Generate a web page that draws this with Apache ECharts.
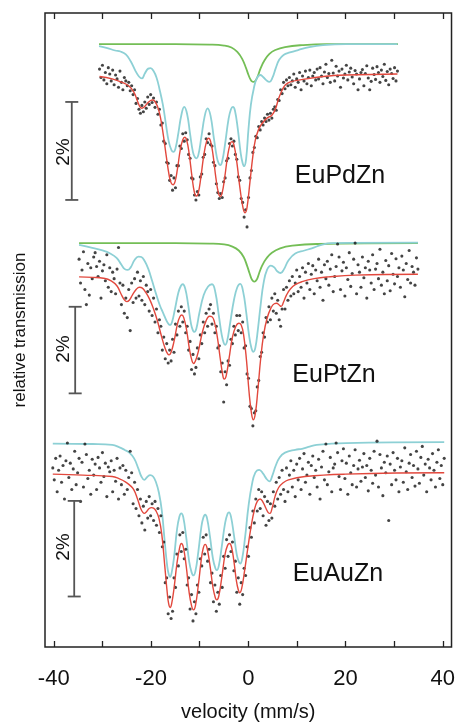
<!DOCTYPE html>
<html>
<head>
<meta charset="utf-8">
<script src="https://cdn.jsdelivr.net/npm/echarts@6/dist/echarts.min.js"></script>
<style>
  html, body { margin: 0; padding: 0; background: #fff; }
  #chart { width: 458px; height: 727px; }
</style>
</head>
<body>
<div id="chart"></div>
<script>
// Mössbauer spectra, relative transmission in % (0 = baseline of the fit)
const velStep = 0.3;
const pdVel0 = -30.6;
const ptVel0 = -34.8;
const auVel0 = -40.2;

// measured points, one per channel
const pdData = [
  0.12, -0.05, 0.20, -0.10, 0.05, -0.18, 0.15, 0.02, -0.12, 0.10,
  -0.20, 0.00, -0.08, -0.25, 0.08, -0.15, -0.30, -0.05, -0.12, -0.22,
  -0.15, -0.32, -0.22, -0.40, -0.30, -0.58, -0.48, -0.70, -0.78, -0.62,
  -0.75, -0.55, -0.68, -0.45, -0.60, -0.40, -0.56, -0.47, -0.66, -0.55,
  -0.80, -0.70, -1.02, -0.98, -1.35, -1.40, -1.78, -1.80, -2.15, -2.05,
  -2.35, -2.10, -2.30, -1.85, -1.85, -1.45, -1.50, -1.20, -1.35, -1.18,
  -1.32, -1.62, -1.70, -2.10, -2.12, -2.45, -2.55, -2.38, -2.45, -2.08,
  -2.02, -1.68, -1.62, -1.30, -1.38, -1.20, -1.42, -1.45, -1.78, -1.85,
  -2.22, -2.40, -2.52, -2.42, -2.50, -2.18, -2.10, -1.75, -1.70, -1.40,
  -1.30, -1.45, -1.35, -1.62, -1.72, -2.08, -2.15, -2.52, -2.60, -2.90,
  -2.75, -3.10, -2.50, -2.10, -1.95, -1.58, -1.48, -1.25, -1.28, -1.05,
  -1.12, -0.95, -1.02, -0.88, -0.95, -0.80, -0.92, -0.78, -0.88, -0.70,
  -0.65, -0.72, -0.50, -0.52, -0.30, -0.38, -0.15, -0.28, -0.10, -0.22,
  -0.05, -0.20, -0.12, 0.02, -0.25, -0.08, -0.15, 0.05, -0.30, -0.02,
  -0.12, 0.08, -0.18, -0.05, 0.10, -0.22, -0.02, 0.05, -0.10, 0.12,
  -0.08, 0.15, -0.02, -0.18, 0.06, 0.22, -0.05, 0.03, -0.15, 0.30,
  0.04, -0.12, 0.18, -0.02, 0.08, -0.25, 0.12, -0.06, 0.02, 0.20,
  -0.10, 0.06, 0.14, -0.04, -0.18, 0.09, 0.02, -0.30, -0.08, 0.05,
  0.11, -0.22, 0.03, 0.19, -0.06, -0.30, -0.13, 0.14, 0.01, -0.09,
  0.17, 0.05, -0.15, 0.10, -0.03, 0.22, -0.11, 0.07, -0.20, 0.12,
  0.03, -0.07, 0.15, -0.12, 0.08
];
const ptData = [
  0.35, -0.20, 0.10, 0.52, -0.35, -0.70, 0.25, -0.48, 0.15, -0.10,
  0.40, 0.50, 0.18, -0.05, 0.30, -0.55, 0.08, 0.22, -0.15, 0.45,
  -0.30, 0.15, -0.40, 0.05, -0.10, -0.45, 0.12, 0.62, -0.20, -0.70,
  -0.25, -0.90, -0.55, -1.00, -0.35, -1.30, -0.20, -0.65, -0.10, -0.55,
  0.05, -0.50, -0.15, -0.60, -0.05, -0.70, -0.25, -0.40, -0.85, -0.35,
  -0.95, -0.55, -1.10, -0.80, -1.35, -1.05, -1.20, -1.75, -1.45, -1.95,
  -1.60, -2.05, -1.75, -2.00, -1.50, -1.80, -1.15, -1.40, -0.85, -1.20,
  -0.75, -1.10, -0.85, -1.35, -1.20, -1.75, -1.55, -2.20, -1.85, -2.30,
  -2.15, -1.70, -1.95, -1.40, -1.60, -1.10, -1.35, -0.90, -1.20, -0.80,
  -0.70, -1.15, -0.90, -1.35, -1.20, -1.70, -1.65, -2.25, -2.05, -2.95,
  -2.25, -2.55, -2.00, -2.10, -1.50, -1.60, -1.20, -1.40, -0.95, -1.30,
  -0.95, -1.35, -1.10, -1.70, -1.65, -2.30, -2.40, -3.05, -3.10, -3.50,
  -3.20, -3.15, -2.60, -2.45, -1.90, -1.80, -1.35, -1.45, -1.00, -1.10,
  -0.75, -1.05, -0.55, -0.85, -0.45, -0.90, -0.60, -1.05, -1.20, -0.80,
  -0.35, -0.80, -0.30, -0.60, -0.15, -0.50, -0.05, -0.45, -0.20, 0.10,
  -0.40, -0.05, -0.30, 0.15, -0.55, 0.05, -0.20, 0.25, -0.35, 0.00,
  0.20, -0.45, 0.10, -0.15, 0.35, -0.30, 0.05, -0.60, 0.22, -0.10,
  0.30, -0.25, 0.12, 0.45, -0.40, -0.05, 0.18, 0.70, 0.40, -0.35,
  0.08, 0.28, -0.50, 0.15, -0.12, 0.50, -0.28, 0.02, 0.35, 0.72,
  -0.45, 0.22, 0.05, -0.30, 0.40, -0.08, 0.15, -0.55, 0.30, 0.10,
  -0.20, 0.45, -0.35, 0.12, 0.25, -0.10, 0.58, -0.25, 0.05, -0.45,
  0.32, -0.15, 0.20, -0.38, 0.48, 0.00, -0.22, 0.36, -0.05, 0.15,
  -0.30, 0.42, 0.10, -0.52, 0.25, -0.12, 0.55, -0.20, 0.18, 0.05,
  -0.25, 0.38, 0.12
];
const auData = [
  0.10, -0.15, 0.30, -0.40, 0.05, 0.35, -0.20, 0.15, -0.55, 0.25,
  0.62, -0.10, 0.20, -0.35, 0.08, 0.45, -0.25, 0.00, 0.30, -0.60,
  0.22, -0.30, 0.60, 0.38, -0.12, 0.05, -0.45, 0.28, -0.05, 0.18,
  -0.35, 0.32, 0.10, -0.20, 0.42, -0.08, 0.20, -0.50, 0.12, 0.02,
  0.25, -0.40, 0.05, -0.18, 0.30, -0.55, 0.10, -0.25, 0.15, -0.45,
  0.05, -0.35, -0.10, 0.45, 0.00, -0.65, -0.20, -0.75, -0.35, -0.90,
  -0.55, -1.05, -0.70, -1.20, -0.60, -0.95, -0.50, -0.90, -0.65, -1.00,
  -0.60, -1.10, -0.75, -1.25, -0.90, -1.55, -1.45, -2.30, -2.20, -2.95,
  -2.60, -3.05, -2.90, -2.20, -2.40, -1.70, -1.95, -1.30, -1.65, -1.25,
  -1.80, -1.60, -2.35, -2.20, -2.85, -2.55, -3.10, -2.70, -2.95, -2.35,
  -2.50, -1.80, -1.95, -1.35, -1.70, -1.30, -1.85, -1.60, -2.30, -2.10,
  -2.70, -2.35, -2.90, -2.50, -2.75, -2.15, -2.40, -1.75, -2.00, -1.40,
  -1.75, -1.30, -1.65, -1.45, -2.05, -1.85, -2.50, -2.20, -2.75, -2.30,
  -2.55, -2.00, -2.15, -1.55, -1.75, -1.15, -1.35, -0.80, -1.05, -0.55,
  -0.80, -0.35, -0.75, -0.40, -0.90, -0.50, -1.10, -0.60, -1.00, -0.65,
  -0.95, -0.40, -0.70, -0.20, -0.55, -0.10, -0.45, 0.05, -0.35, -0.60,
  0.10, -0.40, -0.05, 0.25, -0.30, 0.05, -0.50, 0.18, -0.15, 0.30,
  -0.35, 0.08, 0.40, -0.20, -0.05, 0.22, -0.45, 0.15, 0.35, -0.10,
  0.05, -0.30, 0.28, -0.55, 0.12, 0.45, -0.15, 0.60, -0.25, 0.02,
  0.32, -0.40, 0.10, 0.18, 0.62, 0.42, -0.08, -0.35, 0.25, 0.50,
  -0.12, 0.20, -0.45, 0.35, 0.00, -0.25, 0.15, 0.48, -0.30, 0.08,
  0.26, -0.18, 0.12, 0.40, -0.10, 0.15, -0.38, 0.30, 0.05, -0.22,
  0.45, -0.05, 0.66, -0.30, 0.38, 0.10, -0.48, 0.22, 0.00, 0.35,
  -1.00, 0.18, -0.25, 0.42, 0.05, -0.15, 0.30, -0.40, 0.12, 0.25,
  -0.20, 0.52, 0.02, -0.35, 0.20, 0.38, -0.10, 0.15, -0.28, 0.45,
  0.08, -0.22, 0.32, 0.55, -0.05, 0.18, -0.40, 0.28, 0.10, -0.15,
  0.40, 0.05, -0.30, 0.22, 0.48, -0.12, 0.15, -0.25, 0.30
];

// fitted curves [velocity, %]
const pdFit = [[-30.6,-0.03],[-28,-0.08],[-26,-0.15],[-24.5,-0.23],[-23.5,-0.36],[-22.7,-0.56],[-22.3,-0.65],[-21.9,-0.68],[-21.5,-0.66],[-20.8,-0.58],[-20.1,-0.52],[-19.7,-0.51],[-19.3,-0.53],[-18.7,-0.64],[-18.1,-0.86],[-17.5,-1.22],[-16.9,-1.65],[-16.3,-2.05],[-15.9,-2.2],[-15.5,-2.24],[-15.1,-2.18],[-14.6,-1.92],[-14.0,-1.52],[-13.5,-1.32],[-13.1,-1.27],[-12.7,-1.33],[-12.2,-1.6],[-11.6,-2.08],[-11.1,-2.4],[-10.7,-2.47],[-10.3,-2.4],[-9.8,-2.1],[-9.2,-1.65],[-8.6,-1.35],[-8.2,-1.29],[-7.8,-1.35],[-7.3,-1.62],[-6.7,-2.1],[-6.2,-2.4],[-5.8,-2.48],[-5.4,-2.4],[-4.9,-2.1],[-4.3,-1.66],[-3.8,-1.42],[-3.4,-1.36],[-3.0,-1.42],[-2.4,-1.78],[-1.7,-2.35],[-1.1,-2.72],[-0.7,-2.81],[-0.3,-2.7],[0.3,-2.18],[0.9,-1.65],[1.4,-1.33],[2.0,-1.13],[2.7,-1.0],[3.8,-0.88],[4.8,-0.82],[5.5,-0.7],[6.2,-0.48],[6.9,-0.31],[7.6,-0.2],[8.6,-0.14],[10.6,-0.10],[15.4,-0.03],[20,0],[30.6,0.02]];
const pdCyan = [[-30.7,0.59],[-29,0.55],[-27.4,0.50],[-26.3,0.48],[-25.2,0.42],[-24.2,0.28],[-23.2,0.08],[-22.5,-0.03],[-21.9,-0.07],[-21.3,0.03],[-20.6,0.13],[-20.1,0.14],[-19.5,0.08],[-18.9,-0.05],[-18.3,-0.28],[-17.6,-0.6],[-17.0,-0.98],[-16.4,-1.35],[-15.8,-1.54],[-15.4,-1.57],[-15.0,-1.5],[-14.4,-1.18],[-13.8,-0.82],[-13.2,-0.65],[-12.6,-0.8],[-12.0,-1.2],[-11.4,-1.58],[-11.0,-1.68],[-10.7,-1.70],[-10.3,-1.63],[-9.7,-1.28],[-9.0,-0.84],[-8.4,-0.68],[-7.8,-0.83],[-7.1,-1.3],[-6.5,-1.68],[-6.1,-1.81],[-5.8,-1.84],[-5.4,-1.76],[-4.8,-1.4],[-4.1,-0.9],[-3.6,-0.7],[-3.2,-0.65],[-2.8,-0.72],[-2.2,-1.1],[-1.6,-1.6],[-1.2,-1.8],[-0.9,-1.86],[-0.5,-1.72],[0.0,-1.1],[0.5,-0.6],[1.1,-0.27],[1.7,-0.07],[2.4,0.0],[3.0,-0.04],[3.7,-0.11],[4.3,-0.14],[4.9,-0.06],[5.6,0.14],[6.3,0.31],[7.2,0.41],[8.5,0.46],[10.2,0.51],[12.5,0.57],[15.3,0.61],[20,0.63],[30.6,0.63]];
const pdGreen = [[-30.7,0.63],[-15,0.63],[-8,0.62],[-5,0.6],[-3.5,0.56],[-2.3,0.47],[-1.3,0.33],[-0.5,0.14],[0.0,0.0],[0.4,-0.09],[0.7,-0.13],[1.0,-0.14],[1.3,-0.13],[1.6,-0.09],[2.0,0.0],[2.5,0.14],[3.3,0.3],[4.3,0.43],[5.5,0.51],[7.5,0.57],[11,0.61],[16,0.63],[30.7,0.63]];

const ptFit = [[-34.8,-0.06],[-32,-0.07],[-29.8,-0.09],[-28.2,-0.15],[-27,-0.27],[-26.2,-0.45],[-25.5,-0.59],[-25,-0.63],[-24.5,-0.6],[-23.8,-0.47],[-23,-0.34],[-22.4,-0.30],[-21.8,-0.32],[-21.1,-0.42],[-20.3,-0.58],[-19.5,-0.8],[-18.7,-1.08],[-17.9,-1.42],[-17.1,-1.72],[-16.6,-1.84],[-16.3,-1.86],[-15.9,-1.8],[-15.3,-1.55],[-14.6,-1.15],[-14.1,-0.98],[-13.7,-0.94],[-13.3,-1.0],[-12.7,-1.3],[-12.1,-1.75],[-11.6,-2.0],[-11.3,-2.06],[-10.9,-2.0],[-10.3,-1.78],[-9.5,-1.35],[-8.7,-1.07],[-8.0,-0.97],[-7.5,-0.98],[-7.0,-1.1],[-6.4,-1.45],[-5.8,-1.95],[-5.3,-2.32],[-5.0,-2.42],[-4.6,-2.35],[-4.0,-1.95],[-3.3,-1.45],[-2.6,-1.2],[-2.0,-1.13],[-1.5,-1.17],[-1.0,-1.4],[-0.4,-2.0],[0.1,-2.7],[0.6,-3.2],[1.0,-3.36],[1.4,-3.22],[1.9,-2.7],[2.5,-1.95],[3.1,-1.4],[3.8,-1.02],[4.6,-0.78],[5.3,-0.68],[5.8,-0.67],[6.3,-0.71],[6.7,-0.74],[7.2,-0.64],[7.8,-0.48],[8.6,-0.34],[9.6,-0.24],[11,-0.17],[13.5,-0.10],[16.4,-0.06],[22,-0.02],[34.8,0]];
const ptCyan = [[-34.8,0.68],[-32.5,0.62],[-30,0.55],[-28.4,0.48],[-27.1,0.38],[-26.1,0.22],[-25.4,0.12],[-24.8,0.10],[-24.2,0.16],[-23.4,0.33],[-22.6,0.41],[-22.0,0.40],[-21.3,0.3],[-20.6,0.13],[-19.8,-0.15],[-19.0,-0.45],[-18.2,-0.72],[-17.5,-0.9],[-16.8,-1.08],[-16.4,-1.15],[-16.1,-1.17],[-15.7,-1.1],[-15.1,-0.8],[-14.4,-0.42],[-13.9,-0.27],[-13.5,-0.23],[-13.0,-0.33],[-12.4,-0.7],[-11.8,-1.15],[-11.4,-1.3],[-11.1,-1.33],[-10.7,-1.25],[-10.1,-0.9],[-9.2,-0.48],[-8.3,-0.28],[-7.5,-0.23],[-6.8,-0.42],[-6.1,-0.95],[-5.5,-1.4],[-5.1,-1.58],[-4.8,-1.63],[-4.4,-1.55],[-3.8,-1.15],[-3.0,-0.6],[-2.3,-0.3],[-1.7,-0.22],[-1.1,-0.4],[-0.5,-0.85],[0.1,-1.4],[0.6,-1.7],[1.0,-1.79],[1.4,-1.7],[1.9,-1.3],[2.5,-0.7],[3.1,-0.2],[3.8,0.1],[4.6,0.2],[5.3,0.16],[5.9,0.07],[6.6,0.03],[7.3,0.12],[8.2,0.32],[9.6,0.48],[11.5,0.55],[13,0.6],[15,0.68],[17.1,0.72],[34.8,0.73]];
const ptGreen = [[-34.8,0.72],[-15,0.72],[-8,0.71],[-5,0.69],[-3.3,0.64],[-2,0.55],[-1,0.40],[-0.3,0.2],[0.2,0.03],[0.6,-0.1],[0.9,-0.15],[1.2,-0.17],[1.5,-0.15],[1.8,-0.1],[2.2,0.03],[2.8,0.2],[3.7,0.37],[4.8,0.5],[6.5,0.6],[9,0.66],[14,0.7],[34.8,0.72]];

const auFit = [[-40.2,-0.03],[-34,-0.05],[-28,-0.08],[-26.5,-0.13],[-25.3,-0.19],[-24.4,-0.26],[-23.6,-0.35],[-22.8,-0.55],[-22.1,-0.76],[-21.7,-0.83],[-21.4,-0.85],[-21.0,-0.82],[-20.4,-0.75],[-19.9,-0.73],[-19.5,-0.74],[-19.0,-0.8],[-18.4,-0.95],[-17.8,-1.3],[-17.2,-1.95],[-16.7,-2.5],[-16.4,-2.74],[-16.1,-2.82],[-15.8,-2.75],[-15.3,-2.42],[-14.7,-1.9],[-14.2,-1.6],[-13.8,-1.48],[-13.4,-1.55],[-12.8,-1.95],[-12.2,-2.5],[-11.7,-2.78],[-11.3,-2.87],[-10.9,-2.78],[-10.3,-2.35],[-9.7,-1.82],[-9.3,-1.58],[-8.9,-1.5],[-8.5,-1.58],[-7.9,-1.95],[-7.3,-2.4],[-6.8,-2.62],[-6.5,-2.66],[-6.1,-2.58],[-5.5,-2.2],[-4.8,-1.7],[-4.3,-1.52],[-3.9,-1.48],[-3.5,-1.55],[-3.0,-1.85],[-2.5,-2.25],[-2.1,-2.45],[-1.8,-2.51],[-1.4,-2.42],[-0.8,-2.05],[-0.2,-1.62],[0.5,-1.15],[1.2,-0.78],[1.8,-0.6],[2.4,-0.55],[3.0,-0.62],[3.6,-0.75],[4.1,-0.84],[4.4,-0.85],[4.9,-0.72],[5.5,-0.48],[6.2,-0.31],[7,-0.22],[8.2,-0.15],[11.6,-0.08],[19.9,-0.03],[40.2,0]];
const auCyan = [[-40.2,0.61],[-32,0.6],[-28,0.58],[-26.5,0.53],[-25.5,0.48],[-24.5,0.42],[-23.5,0.3],[-22.6,0.08],[-22.0,-0.08],[-21.4,-0.15],[-20.8,-0.09],[-20.2,-0.05],[-19.6,-0.08],[-19.0,-0.2],[-18.4,-0.42],[-17.8,-0.8],[-17.2,-1.45],[-16.7,-1.95],[-16.4,-2.12],[-16.1,-2.18],[-15.8,-2.1],[-15.3,-1.78],[-14.7,-1.2],[-14.2,-0.92],[-13.8,-0.85],[-13.4,-0.93],[-12.8,-1.35],[-12.2,-1.85],[-11.7,-2.08],[-11.3,-2.15],[-10.9,-2.06],[-10.3,-1.65],[-9.7,-1.15],[-9.3,-0.95],[-8.9,-0.88],[-8.5,-0.96],[-7.9,-1.35],[-7.3,-1.8],[-6.8,-2.0],[-6.5,-2.04],[-6.1,-1.95],[-5.5,-1.55],[-4.8,-1.05],[-4.3,-0.86],[-4.0,-0.83],[-3.6,-0.92],[-3.0,-1.3],[-2.4,-1.72],[-2.0,-1.86],[-1.7,-1.9],[-1.3,-1.8],[-0.7,-1.35],[0.0,-0.7],[0.7,-0.25],[1.4,0.0],[2.2,0.06],[3.0,-0.02],[3.7,-0.13],[4.3,-0.18],[4.9,-0.06],[5.6,0.15],[6.4,0.32],[7.5,0.42],[9.6,0.48],[11,0.5],[12.3,0.54],[14,0.58],[20,0.62],[40.2,0.64]];

const panelNames = ['EuPdZn', 'EuPtZn', 'EuAuZn'];
const xTicks = [-40, -30, -20, -10, 0, 10, 20, 30, 40];
const xLabels = [-40, -20, 0, 20, 40];

const FONT = "'Liberation Sans', Arial, sans-serif";
const RED = '#e2483d', CYAN = '#8dd0d5', GREEN = '#74be56', DOT = '#151515', BAR = '#555';

const toPoints = (v0, vals) => vals.map((y, i) => [+(v0 + i * velStep).toFixed(2), y]);

// each spectrum gets its own grid so that its 2% bar has the length of the figure
const panels = [
  { top: 26, height: 220.5, min: -3.5, max: 1, data: toPoints(pdVel0, pdData), fit: pdFit, cyan: pdCyan, green: pdGreen, barV: -36.3, barTop: -0.55, label: [340, 176], pct: [63.5, 152] },
  { top: 231, height: 216.5, min: -4, max: 1, data: toPoints(ptVel0, ptData), fit: ptFit, cyan: ptCyan, green: ptGreen, barV: -35.6, barTop: -0.75, label: [334, 375], pct: [63.5, 349] },
  { top: 424.9, height: 215.1, min: -3.5, max: 1, data: toPoints(auVel0, auData), fit: auFit, cyan: auCyan, green: null, barV: -35.8, barTop: -0.59, label: [338, 574], pct: [63.5, 547] }
];

const xMin = -41.8, xMax = 41.8;
const grids = [{ left: 45, right: 6, top: 13, bottom: 71, show: true, borderColor: '#222', borderWidth: 1.5 }];
const xAxes = [
  {
    gridIndex: 0, type: 'value', min: xMin, max: xMax, position: 'bottom',
    axisLine: { show: false },
    axisTick: { show: true, inside: true, length: 6, customValues: xTicks, lineStyle: { color: '#222', width: 1.3 } },
    axisLabel: { customValues: xLabels, fontSize: 22, color: '#111', margin: 21, fontFamily: FONT },
    splitLine: { show: false },
    name: 'velocity (mm/s)', nameLocation: 'middle', nameGap: 55,
    nameTextStyle: { fontSize: 20, color: '#111', fontFamily: FONT }
  },
  {
    gridIndex: 0, type: 'value', min: xMin, max: xMax, position: 'top',
    axisLine: { show: false },
    axisTick: { show: true, inside: true, length: 6, customValues: xTicks, lineStyle: { color: '#222', width: 1.3 } },
    axisLabel: { show: false },
    splitLine: { show: false }
  }
];
const yAxes = [{
  gridIndex: 0, type: 'value', min: 0, max: 1,
  axisLine: { show: false }, axisTick: { show: false }, axisLabel: { show: false }, splitLine: { show: false },
  name: 'relative transmission', nameLocation: 'middle', nameGap: 16, nameRotate: 90,
  nameTextStyle: { fontSize: 17, color: '#111', fontFamily: FONT }
}];

const series = [];
const graphics = [];

panels.forEach((p, k) => {
  const gi = k + 1;
  grids.push({ left: 45, right: 6, top: p.top, height: p.height });
  xAxes.push({ gridIndex: gi, type: 'value', min: xMin, max: xMax, show: false });
  yAxes.push({ gridIndex: gi, type: 'value', min: p.min, max: p.max, show: false });
  const ax = { xAxisIndex: k + 2, yAxisIndex: gi };
  const curve = (data, color, width, z) => ({
    type: 'line', ...ax, data, smooth: 0.45, symbol: 'none', clip: false, z,
    lineStyle: { color, width }, silent: true
  });
  if (p.green) series.push(curve(p.green, GREEN, 1.8, 2));
  series.push(curve(p.cyan, CYAN, 1.8, 2));
  series.push({
    type: 'scatter', ...ax, data: p.data, symbolSize: 3.1, clip: false, z: 3,
    itemStyle: { color: DOT }, silent: true
  });
  series.push(curve(p.fit, RED, 1.4, 4));
  // 2% scale bar
  series.push({
    type: 'line', ...ax, data: [[p.barV, p.barTop], [p.barV, p.barTop - 2]],
    symbol: 'rect', symbolSize: [13, 1.8], showSymbol: true, clip: false, z: 4,
    lineStyle: { color: BAR, width: 1.8 }, itemStyle: { color: BAR }, silent: true
  });
  graphics.push({
    type: 'text', x: p.label[0], y: p.label[1],
    style: { text: panelNames[k], font: '25px ' + FONT, fill: '#111', align: 'center', verticalAlign: 'middle' }
  });
  graphics.push({
    type: 'text', x: p.pct[0], y: p.pct[1], rotation: Math.PI / 2,
    style: { text: '2%', font: '19px ' + FONT, fill: '#111', align: 'center', verticalAlign: 'middle' }
  });
});

const chart = echarts.init(document.getElementById('chart'), null, { renderer: 'canvas' });
chart.setOption({
  animation: false,
  backgroundColor: '#fff',
  grid: grids,
  xAxis: xAxes,
  yAxis: yAxes,
  series,
  graphic: graphics
});
</script>
</body>
</html>
